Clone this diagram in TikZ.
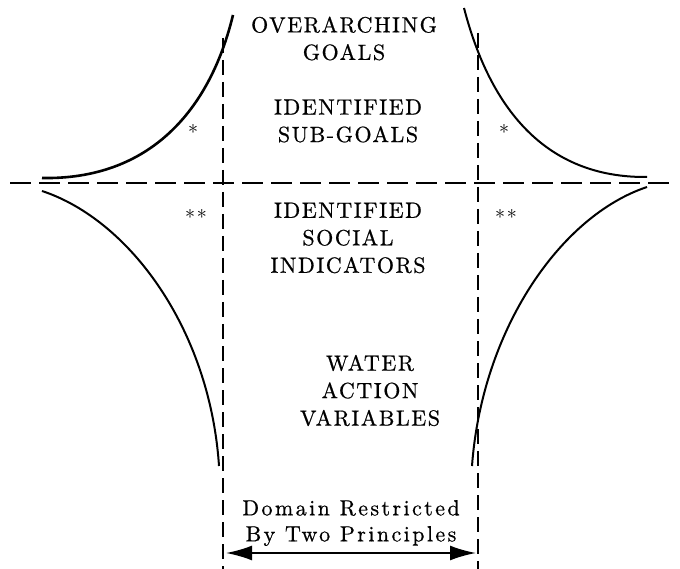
\documentclass[tikz,border=0pt]{standalone}
\usepackage{fontspec}
\usetikzlibrary{arrows.meta}
\newfontfamily\stagefont{lmroman10-regular.otf}[LetterSpace=7,FakeBold=0.7]
\newfontfamily\rangefont{lmroman10-regular.otf}[LetterSpace=11,FakeBold=0.7]
\newfontfamily\starfont{lmroman10-regular.otf}[LetterSpace=8]

\begin{document}
\begin{tikzpicture}[x=1pt,y=-1pt,
		stagetext/.style={align=center,inner sep=0pt,font=\stagefont\fontsize{22}{27.5}\selectfont},
		rangetext/.style={align=center,inner sep=0pt,font=\rangefont\fontsize{22}{26}\selectfont},
		starmark/.style={inner sep=0pt,font=\starfont\fontsize{20}{20}\selectfont},
		bound/.style={line width=2pt},
		hdash/.style={line width=1.8pt,dash pattern=on 21pt off 8pt},
		vdash/.style={line width=1.8pt,dash pattern=on 15pt off 7pt}]
	\useasboundingbox (0,0) rectangle (680,569);

	\draw[hdash] (10,183) -- (673,183);
	\draw[vdash] (223,38) -- (223,569);
	\draw[vdash] (478,33) -- (478,569);

	\draw[bound,line width=2.6pt] (42,178) .. controls (150,180) and (210,110) .. (233,15);
	\draw[bound] (42,191) .. controls (130,220) and (210,330) .. (219,466);
	\draw[bound] (464,8) .. controls (490,108) and (545,178) .. (647,177);
	\draw[bound] (647,187) .. controls (560,216) and (482,330) .. (472,466);

	\node[stagetext] (goals) at (344,38.5) {OVERARCHING\\GOALS};
	\node[stagetext] (subgoals) at (348,121) {IDENTIFIED\\SUB-GOALS};
	\node[stagetext] (indicators) at (348,238) {IDENTIFIED\\SOCIAL\\INDICATORS};
	\node[stagetext] (variables) at (370,390.5) {WATER\\ACTION\\VARIABLES};
	\node[rangetext] (principles) at (351,523) {Domain Restricted\\By Two Principles};

	\foreach \nm/\pos/\txt in {sl/{193,132}/*,sr/{504,132}/*,dl/{196,217}/**,dr/{506,217}/**}
		\node[starmark] (\nm) at (\pos) {\txt};

	\coordinate (left) at (226,553);
	\coordinate (right) at (476,553);
	\draw[line width=2pt,{Latex[length=26pt,width=15pt]}-{Latex[length=26pt,width=15pt]}] (left) -- (right);
\end{tikzpicture}
\end{document}
